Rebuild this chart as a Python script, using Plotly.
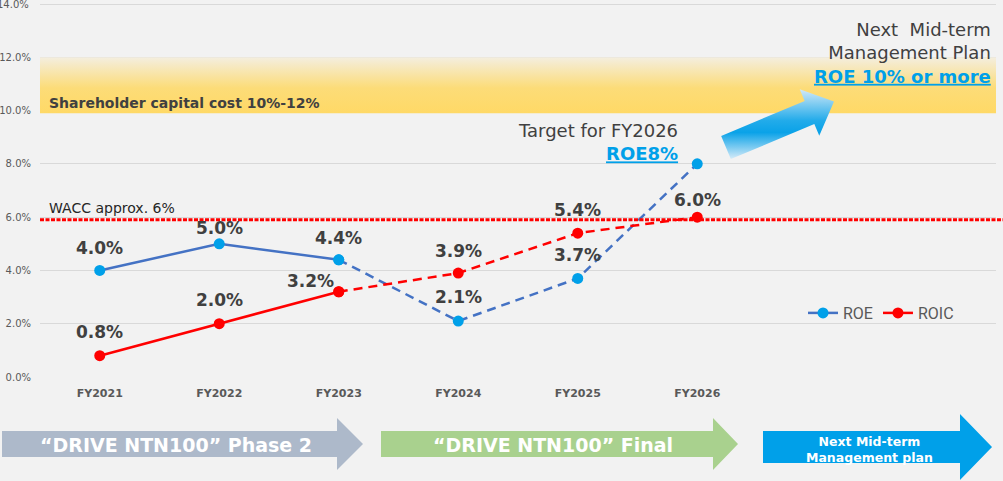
import plotly.graph_objects as go
import math

# ---------------- data ----------------
years = ["FY2021", "FY2022", "FY2023", "FY2024", "FY2025", "FY2026"]
roe = [4.0, 5.0, 4.4, 2.1, 3.7, 8.0]
roic = [0.8, 2.0, 3.2, 3.9, 5.4, 6.0]
n_actual = 3                      # FY2021-FY2023 actual (solid), rest plan (dashed)
wacc = 5.9
shareholder_cost = [9.9, 12.0]
y_ticks = [0, 2, 4, 6, 8, 10, 12, 14]
n_slots = 8                       # category slots on the x axis

# ---------------- layout geometry ----------------
W, H = 1003, 481
ML, MR, MT, MB = 40, 7, 2, 104
PW, PH = W - ML - MR, H - MT - MB
Y_TOP = 14.075                    # axis top (a little headroom above 14%)

def px_x(p):   # pixel -> data x
    return (p - ML) / PW * n_slots - 0.5

def px_y(p):   # pixel -> data y
    return (MT + PH - p) / PH * Y_TOP

def pp_x(p):   # pixel -> paper x
    return (p - ML) / PW

def pp_y(p):   # pixel -> paper y
    return (MT + PH - p) / PH

BLUE_LINE = "#4472C4"
BLUE_MK = "#00A0E9"
RED = "#FF0000"
TXT = "#404040"
FONT = "DejaVu Sans"
TICK_FONT = dict(family=FONT, size=10, color="#595959")

fig = go.Figure()

# shareholder capital cost band (gradient)
fig.add_trace(go.Scatter(
    x=[-0.5, n_slots - 0.5, n_slots - 0.5, -0.5, -0.5],
    y=[shareholder_cost[0], shareholder_cost[0], shareholder_cost[1], shareholder_cost[1], shareholder_cost[0]],
    mode="lines", fill="toself", line=dict(width=0),
    fillgradient=dict(type="vertical",
                      colorscale=[[0, "#FFD966"], [0.45, "#FCDC78"], [1, "#F4EEDF"]]),
    hoverinfo="skip", showlegend=False))

xs = list(range(len(years)))

# ROE
fig.add_trace(go.Scatter(
    x=xs[:n_actual], y=roe[:n_actual], name="ROE", mode="lines+markers",
    line=dict(color=BLUE_LINE, width=2.5), marker=dict(color=BLUE_MK, size=11),
    legendgroup="roe"))
# ROIC
fig.add_trace(go.Scatter(
    x=xs[:n_actual], y=roic[:n_actual], name="ROIC", mode="lines+markers",
    line=dict(color=RED, width=2.5), marker=dict(color=RED, size=11),
    legendgroup="roic"))
# plans (dashed)
fig.add_trace(go.Scatter(
    x=xs[n_actual - 1:], y=roe[n_actual - 1:], name="ROE", mode="lines+markers",
    line=dict(color=BLUE_LINE, width=2.5, dash="9px,6px"), marker=dict(color=BLUE_MK, size=11),
    legendgroup="roe", showlegend=False))
fig.add_trace(go.Scatter(
    x=xs[n_actual - 1:], y=roic[n_actual - 1:], name="ROIC", mode="lines+markers",
    line=dict(color=RED, width=2.5, dash="9px,6px"), marker=dict(color=RED, size=11),
    legendgroup="roic", showlegend=False))

# diagonal gradient arrow (decoration)
T = (726, 147.5); B = (809.5, 112.5); P = (834, 101.5)
dx, dy = B[0] - T[0], B[1] - T[1]
L = math.hypot(dx, dy)
nx, ny = -dy / L, dx / L
if ny < 0:
    nx, ny = -nx, -ny
sw, hw = 12.5, 25.3
poly = [(T[0] - sw * nx, T[1] - sw * ny), (B[0] - sw * nx, B[1] - sw * ny),
        (B[0] - hw * nx, B[1] - hw * ny), P,
        (B[0] + hw * nx, B[1] + hw * ny), (B[0] + sw * nx, B[1] + sw * ny),
        (T[0] + sw * nx, T[1] + sw * ny)]
poly.append(poly[0])
fig.add_trace(go.Scatter(
    x=[px_x(p[0]) for p in poly], y=[px_y(p[1]) for p in poly],
    mode="lines", fill="toself", line=dict(width=0),
    fillgradient=dict(type="vertical",
                      colorscale=[[0, "#D6EBF8"], [0.38, "#0AA2E8"], [0.55, "#22ABEA"], [1, "#D3E9F7"]]),
    hoverinfo="skip", showlegend=False))

shapes = []
# WACC line
shapes.append(dict(type="line", xref="paper", yref="y", x0=0, x1=pp_x(1003), y0=wacc, y1=wacc,
                   line=dict(color=RED, width=3, dash="4px,1.5px"), layer="above"))

def path(pts):
    return "M " + " L ".join(f"{pp_x(a):.5f},{pp_y(b):.5f}" for a, b in pts) + " Z"

shapes.append(dict(type="path", xref="paper", yref="paper", line=dict(width=0), fillcolor="#ADB9CA",
                   path=path([(2, 431), (337, 431), (337, 418), (363, 444), (337, 470), (337, 457), (2, 457)])))
shapes.append(dict(type="path", xref="paper", yref="paper", line=dict(width=0), fillcolor="#A9D18E",
                   path=path([(381, 431), (713, 431), (713, 418), (738, 444), (713, 470), (713, 457), (381, 457)])))
shapes.append(dict(type="path", xref="paper", yref="paper", line=dict(width=0), fillcolor="#00A0E9",
                   path=path([(763, 431), (960, 431), (960, 414), (992, 447), (960, 480), (960, 463), (763, 463)])))

ann = []
# top tick label (plotly hides it at the very edge of the figure)
ann.append(dict(x=pp_x(31), y=y_ticks[-1], xref="paper", yref="y", text=f"{y_ticks[-1]:.1f}%",
                showarrow=False, xanchor="right", yanchor="middle", font=TICK_FONT))
# data labels
label_dy = {("roe", 0): 22, ("roe", 1): 16, ("roe", 2): 22, ("roe", 3): 24, ("roe", 4): 23,
            ("roic", 0): 24, ("roic", 1): 24, ("roic", 2): 11, ("roic", 3): 22, ("roic", 4): 23, ("roic", 5): 17}
label_dx = {("roic", 2): -28}
for key, vals in (("roe", roe), ("roic", roic)):
    for i, v in enumerate(vals):
        if (key, i) not in label_dy:
            continue
        ann.append(dict(x=i, y=v, xref="x", yref="y", text=f"{v:.1f}%", showarrow=False,
                        xanchor="center", yanchor="middle",
                        yshift=label_dy[(key, i)], xshift=label_dx.get((key, i), 0),
                        font=dict(family=FONT, size=17, color=TXT, weight="bold")))

# target annotation
ann.append(dict(x=len(years) - 1, y=roe[-1], xref="x", yref="y",
                text="Target for FY2026<br><span style='color:#00A0E9'><b><u>ROE8%</u></b></span>",
                showarrow=False, xanchor="right", yanchor="bottom", align="right",
                xshift=-17, yshift=-2, font=dict(family=FONT, size=18, color=TXT)))
# next plan annotation
ann.append(dict(x=pp_x(993), y=pp_y(53), xref="paper", yref="paper",
                text="Next\u00a0\u00a0Mid-term<br>Management Plan<br><span style='color:#00A0E9'><b><u>ROE 10% or more</u></b></span>",
                showarrow=False, xanchor="right", yanchor="middle", align="right",
                font=dict(family=FONT, size=18, color=TXT)))
# band and WACC texts
ann.append(dict(x=pp_x(47), y=shareholder_cost[0], xref="paper", yref="y",
                text="Shareholder capital cost 10%-12%", showarrow=False,
                xanchor="left", yanchor="middle", yshift=10,
                font=dict(family=FONT, size=14, color=TXT, weight="bold")))
ann.append(dict(x=pp_x(47), y=wacc, xref="paper", yref="y",
                text="WACC approx. 6%", showarrow=False,
                xanchor="left", yanchor="middle", yshift=12,
                font=dict(family=FONT, size=14, color="#262626")))
# phase arrows texts
ann.append(dict(x=pp_x(176), y=pp_y(445), xref="paper", yref="paper",
                xanchor="center", yanchor="middle",
                text="\u201cDRIVE NTN100\u201d Phase 2", showarrow=False,
                font=dict(family=FONT, size=19, color="white", weight="bold")))
ann.append(dict(x=pp_x(553), y=pp_y(445), xref="paper", yref="paper",
                xanchor="center", yanchor="middle",
                text="\u201cDRIVE NTN100\u201d Final", showarrow=False,
                font=dict(family=FONT, size=19, color="white", weight="bold")))
ann.append(dict(x=pp_x(869), y=pp_y(450), xref="paper", yref="paper",
                xanchor="center", yanchor="middle",
                text="Next Mid-term<br>Management plan", showarrow=False,
                font=dict(family=FONT, size=12.5, color="white", weight="bold")))

fig.update_layout(
    width=W, height=H, margin=dict(l=ML, r=MR, t=MT, b=MB, autoexpand=False),
    paper_bgcolor="#F2F2F2", plot_bgcolor="#F2F2F2",
    shapes=shapes, annotations=ann,
    showlegend=True,
    legend=dict(orientation="h", x=pp_x(803), y=pp_y(313), xanchor="left", yanchor="middle",
                bgcolor="rgba(0,0,0,0)", itemwidth=30,
                font=dict(family="Roboto", size=16, color="#595959")),
    xaxis=dict(range=[-0.5, n_slots - 0.5], tickvals=xs, ticktext=years, showgrid=False,
               zeroline=False, showline=False, ticks="", ticklabelstandoff=8, automargin=False,
               tickfont=dict(family=FONT, size=11, color="#595959", weight="bold")),
    yaxis=dict(range=[0, Y_TOP], tickvals=y_ticks,
               ticktext=[f"{v:.1f}%" if v < y_ticks[-1] else "" for v in y_ticks],
               showgrid=True, gridcolor="#D9D9D9", gridwidth=1, zeroline=False, showline=False,
               ticks="", ticklabelstandoff=8, automargin=False,
               tickfont=TICK_FONT),
)

fig.write_html("out.html")
